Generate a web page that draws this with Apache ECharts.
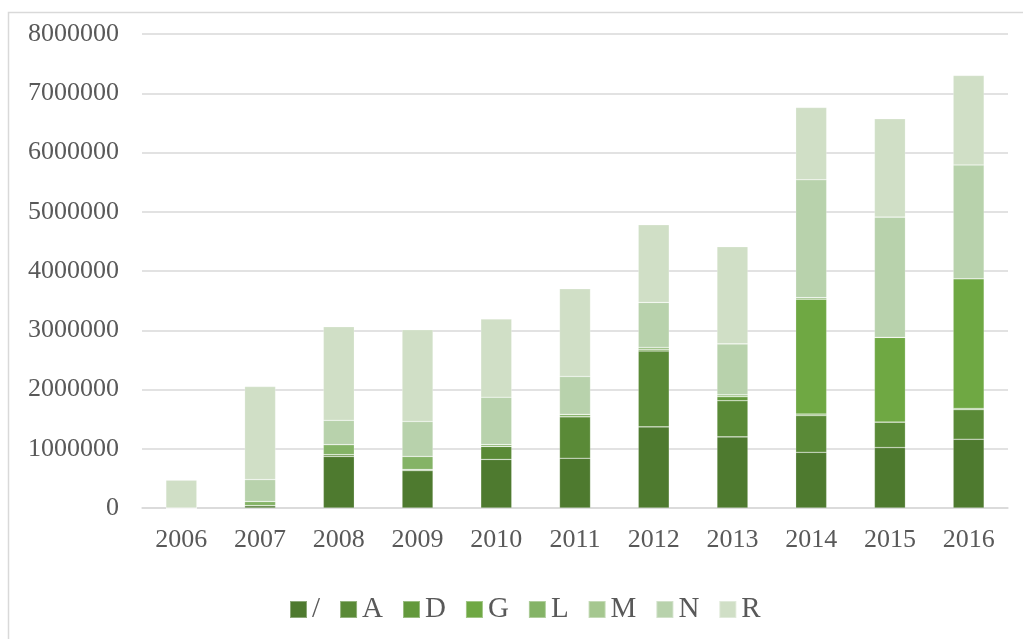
<!DOCTYPE html>
<html lang="en">
  <head>
    <meta charset="UTF-8" />
    <title>Stacked bars 2006-2016</title>
    <style>
      * {
        margin: 0;
        padding: 0;
      }
      body {
        background: #ffffff;
      }
      #main {
        width: 1023px;
        height: 639px;
      }
    </style>
  </head>
  <body>
    <div id="main"></div>
    <script src="https://cdn.jsdelivr.net/npm/echarts@6/dist/echarts.min.js"></script>
    <script>
      // categories
      var years = ["2006", "2007", "2008", "2009", "2010", "2011", "2012", "2013", "2014", "2015", "2016"];
      // series names (legend order, bottom to top)
      var names = ["/", "A", "D", "G", "L", "M", "N", "R"];
      // values
      var slash = [0, 40000, 870000, 630000, 820000, 840000, 1370000, 1200000, 940000, 1020000, 1160000];
      var seriesA = [0, 0, 30000, 20000, 220000, 700000, 1280000, 610000, 620000, 430000, 500000];
      var seriesD = [0, 0, 0, 0, 0, 0, 30000, 70000, 25000, 0, 20000];
      var seriesG = [0, 0, 0, 0, 0, 0, 0, 0, 1940000, 1430000, 2190000];
      var seriesL = [0, 70000, 170000, 220000, 30000, 40000, 30000, 30000, 25000, 0, 0];
      var seriesM = [0, 0, 0, 0, 0, 0, 0, 0, 0, 0, 0];
      var seriesN = [0, 370000, 410000, 590000, 800000, 640000, 760000, 860000, 1990000, 2030000, 1920000];
      var seriesR = [470000, 1570000, 1580000, 1550000, 1320000, 1480000, 1310000, 1640000, 1220000, 1660000, 1510000];

      var allData = [slash, seriesA, seriesD, seriesG, seriesL, seriesM, seriesN, seriesR];
      // green shades, darkest first
      var colors = ["#4e7a2f", "#5a8a37", "#63993c", "#6fa843", "#84b366", "#a5c78f", "#b8d2ac", "#d0dfc6"];

      var font = "'Liberation Serif', 'Times New Roman', serif";
      var myChart = echarts.init(document.getElementById("main"));

      var series = names.map(function (n, i) {
        return {
          name: n,
          type: "bar",
          stack: "total",
          barWidth: 31,
          itemStyle: {
            color: colors[i],
            borderColor: "rgba(255,255,255,0.35)",
            borderWidth: 0.6,
          },
          data: allData[i],
        };
      });

      myChart.setOption({
        animation: false,
        color: colors,
        // outer frame of the chart area
        graphic: [
          {
            type: "rect",
            silent: true,
            shape: { x: 8.5, y: 12.5, width: 1200, height: 800 },
            style: { fill: "none", stroke: "#d9d9d9", lineWidth: 1.5 },
          },
        ],
        grid: {
          left: 142,
          right: 15,
          top: 34,
          bottom: 131,
          containLabel: false,
        },
        legend: {
          left: 284,
          top: 590,
          itemWidth: 17,
          itemHeight: 17,
          itemGap: 19,
          icon: "rect",
          data: names,
          textStyle: {
            fontFamily: font,
            fontSize: 29,
            color: "#595959",
          },
        },
        xAxis: {
          type: "category",
          data: years,
          axisLine: { lineStyle: { color: "#d9d9d9", width: 1.5 } },
          axisTick: { show: false },
          axisLabel: {
            fontFamily: font,
            fontSize: 26,
            color: "#595959",
            margin: 19,
          },
        },
        yAxis: {
          type: "value",
          min: 0,
          max: 8000000,
          interval: 1000000,
          axisLine: { show: false },
          axisTick: { show: false },
          splitLine: { lineStyle: { color: "#d9d9d9", width: 1.5 } },
          axisLabel: {
            fontFamily: font,
            fontSize: 26,
            color: "#595959",
            margin: 23,
            formatter: function (v) {
              return String(v);
            },
          },
        },
        series: series,
      });
    </script>
  </body>
</html>
